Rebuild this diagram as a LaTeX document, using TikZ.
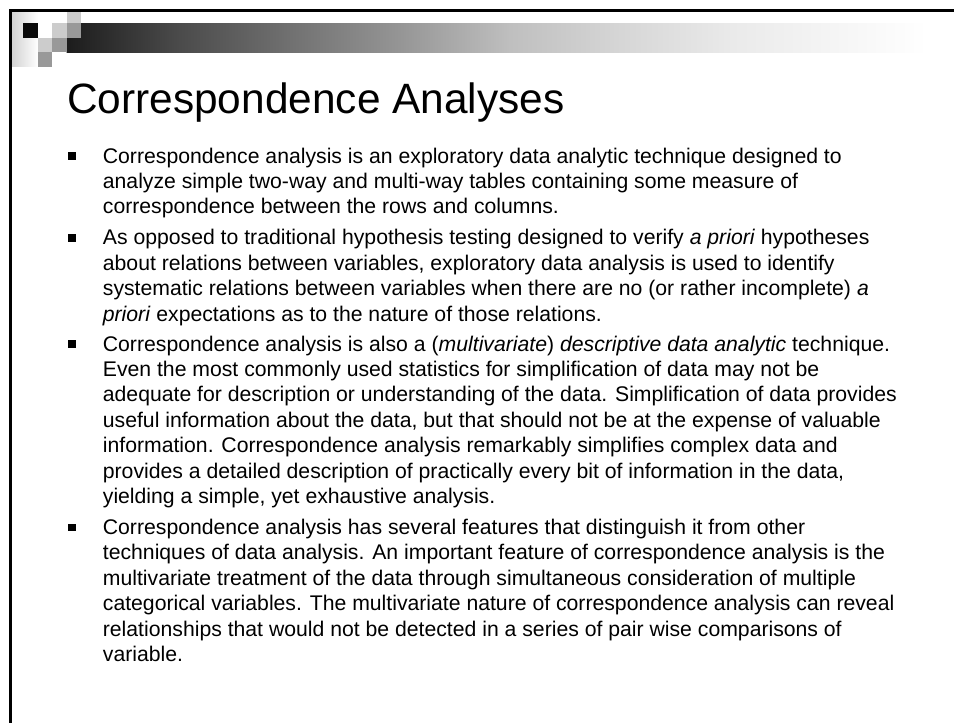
\documentclass[tikz,border=0pt]{standalone}
\usepackage{fontspec}
\setmainfont{Liberation Sans}
\definecolor{lg}{HTML}{CCCCCC}
\definecolor{mg}{HTML}{999999}
\definecolor{dk}{HTML}{0A0A0A}
\definecolor{s0}{HTML}{1C1C1C}
\definecolor{s1}{HTML}{4A4A4A}
\definecolor{s2}{HTML}{707070}
\definecolor{s3}{HTML}{959595}
\definecolor{s4}{HTML}{BFBFBF}
\definecolor{s5}{HTML}{D6D6D6}
\definecolor{s6}{HTML}{EAEAEA}
\definecolor{s7}{HTML}{F6F6F6}
\pgfdeclarehorizontalshading{barshade}{100bp}{color(0bp)=(s0); color(25bp)=(s0); color(31.25bp)=(s1); color(37.5bp)=(s2); color(43.75bp)=(s3); color(50bp)=(s4); color(56.25bp)=(s5); color(62.5bp)=(s6); color(68.75bp)=(s7); color(73.5bp)=(white); color(100bp)=(white)}
\tikzset{
  txt/.style={anchor=base west, inner sep=0pt, font=\fontsize{21.2}{25}\selectfont},
  ttl/.style={anchor=base west, inner sep=0pt, font=\fontsize{42.4}{48}\selectfont},
  bul/.style={fill=black, minimum size=7.5pt, inner sep=0pt, draw=none},
}
\begin{document}
\begin{tikzpicture}[x=1pt,y=-1pt]
\useasboundingbox (0,0) rectangle (954,723);
\fill[white] (0,0) rectangle (954,723);
% left fade
\shade[left color=black!18, right color=white] (11,11) rectangle (38,66);
% gradient bar
\shade[shading=barshade] (66.5,23) rectangle (954,52);
% squares
\fill[lg] (66.5,8.5) rectangle (81,23);
\fill[dk] (23,23) rectangle (37.5,37.5);
\fill[lg] (52,23) rectangle (66.5,37.5);
\fill[mg] (66.5,23) rectangle (81,37.5);
\fill[lg] (37.5,37.5) rectangle (52,52);
\fill[mg] (52,37.5) rectangle (66.5,52);
\fill[mg] (37.5,52) rectangle (52,66.5);
% border
\draw[line width=2.7pt] (10.3,723) -- (10.3,10.3) -- (954,10.3);
% title
\node[ttl] (title) at (67,113) {Correspondence Analyses};
% bullets
\node[bul] (q1) at (72,156) {};
\node[bul] (q2) at (72,237.8) {};
\node[bul] (q3) at (72,344) {};
\node[bul] (q4) at (72,527.4) {};
% bullet 1
\node[txt] (a1) at (102.7,163) {Correspondence analysis is an exploratory data analytic technique designed to};
\node[txt] (a2) at (102.7,188.4) {analyze simple two-way and multi-way tables containing some measure of};
\node[txt] (a3) at (102.7,213.8) {correspondence between the rows and columns.};
% bullet 2
\node[txt] (b1) at (102.7,244.8) {As opposed to traditional hypothesis testing designed to verify \textit{a priori} hypotheses};
\node[txt] (b2) at (102.7,270.2) {about relations between variables, exploratory data analysis is used to identify};
\node[txt] (b3) at (102.7,295.6) {systematic relations between variables when there are no (or rather incomplete) \textit{a}};
\node[txt] (b4) at (102.7,321) {\textit{priori} expectations as to the nature of those relations.};
% bullet 3
\node[txt] (c1) at (102.7,351) {Correspondence analysis is also a (\textit{multivariate}) \textit{descriptive data analytic} technique.};
\node[txt] (c2) at (102.7,376.4) {Even the most commonly used statistics for simplification of data may not be};
\node[txt] (c3) at (102.7,401.8) {adequate for description or understanding of the data. Simplification of data provides};
\node[txt] (c4) at (102.7,427.2) {useful information about the data, but that should not be at the expense of valuable};
\node[txt] (c5) at (102.7,452.6) {information. Correspondence analysis remarkably simplifies complex data and};
\node[txt] (c6) at (102.7,478) {provides a detailed description of practically every bit of information in the data,};
\node[txt] (c7) at (102.7,503.4) {yielding a simple, yet exhaustive analysis.};
% bullet 4
\node[txt] (d1) at (102.7,534.4) {Correspondence analysis has several features that distinguish it from other};
\node[txt] (d2) at (102.7,559.8) {techniques of data analysis. An important feature of correspondence analysis is the};
\node[txt] (d3) at (102.7,585.2) {multivariate treatment of the data through simultaneous consideration of multiple};
\node[txt] (d4) at (102.7,610.6) {categorical variables. The multivariate nature of correspondence analysis can reveal};
\node[txt] (d5) at (102.7,636) {relationships that would not be detected in a series of pair wise comparisons of};
\node[txt] (d6) at (102.7,661.4) {variable.};
\end{tikzpicture}
\end{document}
